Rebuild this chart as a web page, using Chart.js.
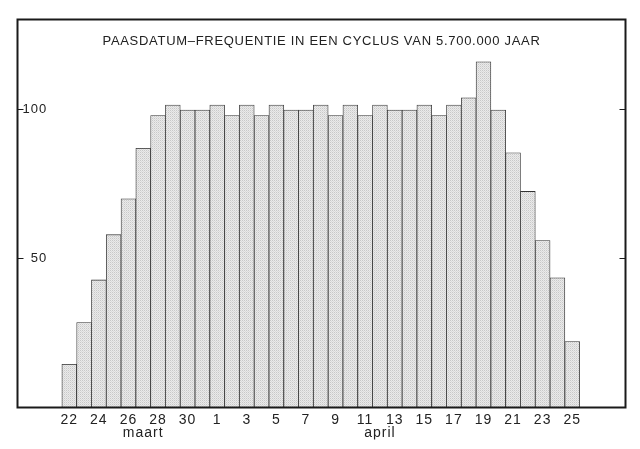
<!DOCTYPE html>
<html lang="nl">
<head>
<meta charset="utf-8">
<title>Paasdatum-frequentie</title>
<script src="https://cdn.jsdelivr.net/npm/chart.js@4.4.1/dist/chart.umd.min.js"></script>
<style>
  html, body { margin: 0; padding: 0; background: #fff; }
  #grafiek { display: block; }
</style>
</head>
<body>
<canvas id="grafiek" width="640" height="449"></canvas>
<script>
// dagen van 22 maart t/m 25 april
const dagen = [22, 23, 24, 25, 26, 27, 28, 29, 30, 31,
	1, 2, 3, 4, 5, 6, 7, 8, 9, 10, 11, 12, 13, 14, 15, 16, 17, 18, 19, 20, 21, 22, 23, 24, 25];

// frequentie per datum
const waarden = [14.5, 28.5, 42.8, 58, 70, 87, 98, 101.5, 99.8, 99.8,
	101.5, 98, 101.5, 98, 101.5, 99.8, 99.8, 101.5, 98, 101.5, 98, 101.5, 99.8, 99.8,
	101.5, 98, 101.5, 103.9, 116, 99.8, 85.5, 72.5, 56, 43.5, 22.1];

// maandnamen en de dag (index) waaronder ze staan
const maanden = ['maart', 'april'];
const maandIndex = [5, 21];

// labels op de y-as
const yTicks = [50, 100];

const titel = 'PAASDATUM–FREQUENTIE IN EEN CYCLUS VAN 5.700.000 JAAR';

// gestippelde vulling zoals in het origineel
function stippel() {
	const c = document.createElement('canvas');
	c.width = 2; c.height = 2;
	const g = c.getContext('2d');
	g.fillStyle = '#eaeaea';
	g.fillRect(0, 0, 2, 2);
	g.fillStyle = '#c8c8c8';
	g.fillRect(0, 0, 1, 1);
	g.fillStyle = '#dadada';
	g.fillRect(1, 1, 1, 1);
	return g.createPattern(c, 'repeat');
}

// kader, streepjes op de y-as en de titel binnen het kader
const kaderPlugin = {
	id: 'kader',
	beforeUpdate(chart) {
		chart.ctx.letterSpacing = '1px';
	},
	afterDraw(chart) {
		const { ctx, chartArea: a, scales: { y } } = chart;
		ctx.save();
		ctx.strokeStyle = '#1a1a1a';
		ctx.lineWidth = 2;
		ctx.strokeRect(a.left, a.top, a.right - a.left, a.bottom - a.top);

		ctx.lineWidth = 1.2;
		yTicks.forEach(function (v) {
			const py = y.getPixelForValue(v);
			ctx.beginPath();
			ctx.moveTo(a.left, py);
			ctx.lineTo(a.left + 6, py);
			ctx.moveTo(a.right - 6, py);
			ctx.lineTo(a.right, py);
			ctx.stroke();
		});

		ctx.font = '13px "Liberation Sans"';
		ctx.fillStyle = '#222';
		ctx.textAlign = 'center';
		ctx.textBaseline = 'middle';
		ctx.letterSpacing = '0.7px';
		ctx.fillText(titel, (a.left + a.right) / 2, a.top + 22);
		ctx.restore();
	}
};

const ctx = document.getElementById('grafiek');
new Chart(ctx, {
	type: 'bar',
	data: {
		datasets: [{
			data: waarden.map(function (w, i) { return { x: i, y: w }; }),
			backgroundColor: stippel(),
			borderColor: '#333',
			borderWidth: 0.8,
			borderSkipped: 'bottom',
			barPercentage: 1,
			categoryPercentage: 1
		}]
	},
	options: {
		responsive: false,
		animation: false,
		layout: { padding: { left: 17.5, right: 14.5, top: 19.5, bottom: 9.5 } },
		plugins: {
			legend: { display: false },
			tooltip: { enabled: false }
		},
		scales: {
			x: {
				type: 'linear',
				offset: false,
				min: -3.5,
				max: 37.6,
				grid: { display: false, drawTicks: false },
				border: { display: false },
				afterBuildTicks: function (scale) {
					scale.ticks = dagen.map(function (d, i) { return { value: i }; });
				},
				afterFit: function (scale) {
					scale.height = 32;
				},
				ticks: {
					autoSkip: false,
					maxRotation: 0,
					minRotation: 0,
					padding: 6,
					color: '#222',
					font: { family: '"Liberation Sans"', size: 14, lineHeight: 0.95 },
					callback: function (v) {
						const i = Math.round(v);
						const dag = i % 2 === 0 ? String(dagen[i]) : '';
						const m = maandIndex.indexOf(i);
						return m >= 0 ? [dag, maanden[m]] : dag;
					}
				}
			},
			y: {
				min: 0,
				max: 130.2,
				grid: { display: false, drawTicks: false },
				border: { display: false },
				afterBuildTicks: function (scale) {
					scale.ticks = yTicks.map(function (v) { return { value: v }; });
				},
				afterFit: function (scale) {
					scale.width = 0;
				},
				ticks: {
					mirror: true,
					crossAlign: 'far',
					padding: 5,
					color: '#222',
					font: { family: '"Liberation Sans"', size: 13 }
				}
			}
		}
	},
	plugins: [kaderPlugin]
});
</script>
</body>
</html>
